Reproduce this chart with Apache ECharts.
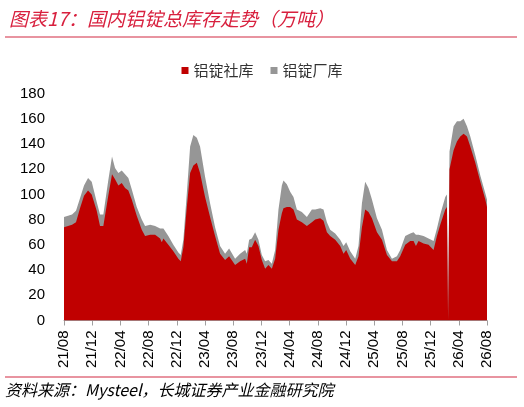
<!DOCTYPE html>
<html>
<head>
<meta charset="utf-8">
<script src="https://cdn.jsdelivr.net/npm/echarts@6/dist/echarts.min.js"></script>
<style>
html,body{margin:0;padding:0;background:#fff;}
#chart{width:524px;height:407px;}
</style>
</head>
<body>
<div id="chart"></div>
<script>
// x positions: months elapsed since 2021-08
const months = [0,0.57,1.14,1.70,2.27,2.84,3.41,3.93,4.64,5.11,5.58,5.82,6.25,6.81,7.24,7.71,8.19,8.66,9.13,9.61,
  10.32,11.03,11.50,12.21,12.92,13.63,13.87,14.10,14.80,15.51,16.22,16.56,16.93,17.42,17.89,18.35,18.84,19.30,20.01,20.72,
  21.43,22.14,22.85,23.42,24.27,24.98,25.69,25.93,26.26,26.64,27.11,27.58,28.06,28.53,29.00,29.48,29.95,30.42,30.90,31.13,
  31.61,32.08,32.55,33.03,33.74,34.45,35.16,35.63,36.34,36.81,37.29,37.76,38.47,39.18,39.65,40.03,40.60,41.31,41.77,42.26,
  42.72,43.19,43.68,44.39,45.10,45.81,46.52,47.22,47.69,48.40,49.11,49.58,49.92,50.29,51.00,51.71,52.42,52.90,53.37,54.08,
  54.32,54.48,54.68,55.26,55.74,56.21,56.68,57.16,57.63,58.34,59.05,59.76,60];
// 铝锭社库 (万吨)
const socialStock = [74,75,76,78,89,99,103,100,87,75,75,74,98,116,112,107,109,105,103,96,
  83,72,67,68,68,65,62,65,60,55,49,47,58,90,117,123,125,117,98,82,
  67,53,48,51,44,47,49,45,58,58,64,59,48,41,44,41,49,72,85,89,
  90,90,88,80,78,75,78,80,81,79,70,67,64,59,53,56,49,44,51,74,
  88,86,81,70,64,52,47,47,51,60,63,63,59,63,61,60,56,67,76,88,
  90,0,120,135,142,146,148,146,138,125,110,96,90];
// 铝锭厂库 (万吨)
const factoryStock = [8,8,8,9,8,8,10,10,7,9,9,9,12,14,9,10,10,11,10,8,
  7,8,8,8,7,8,10,8,7,5,5,5,6,11,21,24,20,21,16,11,
  7,6,5,6,5,6,7,8,6,7,6,5,4,6,4,4,7,16,22,22,
  18,12,10,8,8,7,10,8,8,9,8,5,5,5,6,6,6,5,8,19,
  22,19,15,11,8,4,2,4,5,7,6,7,9,5,6,5,7,6,8,10,
  10,0,14,19,16,12,12,8,8,6,5,5,6];
const xTickLabels = ['21/08','21/12','22/04','22/08','22/12','23/04','23/08','23/12','24/04','24/08','24/12','25/04','25/08','25/12','26/04','26/08'];
const seriesNames = ['铝锭社库','铝锭厂库'];

const chart = echarts.init(document.getElementById('chart'), null, {renderer:'canvas'});
const numFont = '"Liberation Sans", Arial, sans-serif';
const cjkFont = '"Noto Sans CJK SC", sans-serif';

// factory stock is stacked on top of social stock: draw the cumulative total underneath
const totalStock = socialStock.map((v,i)=>v + factoryStock[i]);

chart.setOption({
  animation:false,
  backgroundColor:'#fff',
  title:{
    text:'图表17：国内铝锭总库存走势（万吨）',
    left:4, top:4,
    textStyle:{fontSize:19, fontStyle:'italic', fontWeight:'normal', color:'#D8203E', fontFamily:cjkFont}
  },
  graphic:[
    {type:'line', shape:{x1:5,y1:37,x2:517,y2:37}, style:{stroke:'#E07080', lineWidth:1.5}},
    {type:'line', shape:{x1:5,y1:377,x2:517,y2:377}, style:{stroke:'#E07080', lineWidth:1.5}},
    {type:'text', left:5, top:382, style:{text:'资料来源：Mysteel，长城证券产业金融研究院', fontSize:16, fontStyle:'italic', fill:'#000', fontFamily:cjkFont}}
  ],
  legend:{
    data:seriesNames,
    top:58, left:'center',
    icon:'rect', itemWidth:7, itemHeight:7, itemGap:17,
    textStyle:{fontSize:15, color:'#333', fontFamily:cjkFont}
  },
  grid:{left:64, right:37, top:93.5, bottom:86.5, containLabel:false},
  xAxis:{
    type:'value', min:0, max:60, interval:4,
    axisLine:{show:true, lineStyle:{color:'#A0A0A0', width:1}},
    axisTick:{show:true, length:5, lineStyle:{color:'#A0A0A0'}},
    splitLine:{show:false},
    axisLabel:{rotate:90, margin:10, fontSize:15, color:'#000', fontFamily:numFont,
      formatter:function(v){ return xTickLabels[Math.round(v/4)] || ''; }}
  },
  yAxis:{
    type:'value', min:0, max:180, interval:20,
    axisLine:{show:false}, axisTick:{show:false}, splitLine:{show:false},
    axisLabel:{fontSize:15, color:'#000', margin:19, fontFamily:numFont}
  },
  series:[
    {name:seriesNames[1], type:'line', symbol:'none', lineStyle:{width:0}, z:2,
      itemStyle:{color:'#969696'}, areaStyle:{color:'#969696', opacity:1},
      data:months.map((m,i)=>[m, totalStock[i]])},
    {name:seriesNames[0], type:'line', symbol:'none', lineStyle:{width:0}, z:3,
      itemStyle:{color:'#C00000'}, areaStyle:{color:'#C00000', opacity:1},
      data:months.map((m,i)=>[m, socialStock[i]])}
  ]
});
</script>
</body>
</html>
